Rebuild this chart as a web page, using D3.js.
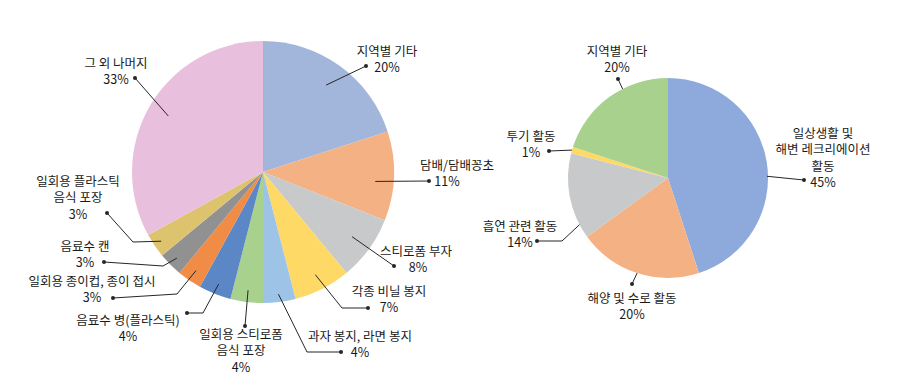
<!DOCTYPE html>
<html>
<head>
	<meta charset="utf-8">
	<style>
		body { margin: 0; background: #fff; }
		text {
			font-family: "Noto Sans CJK KR", "Noto Sans", sans-serif;
			font-size: 12.5px;
			fill: #1a1a1a;
		}
		.leader { fill: none; stroke: #262626; stroke-width: 1; }
	</style>
</head>
<body>
	<script src="https://cdn.jsdelivr.net/npm/d3@7"></script>
	<script>
	// left pie: 쓰레기 종류별 비율
	var leftCats = ["지역별 기타", "담배/담배꽁초", "스티로폼 부자", "각종 비닐 봉지", "과자 봉지, 라면 봉지",
		"일회용 스티로폼\n음식 포장", "음료수 병(플라스틱)", "일회용 종이컵, 종이 접시", "음료수 캔",
		"일회용 플라스틱\n음식 포장", "그 외 나머지"];
	var leftVals = [20, 11, 8, 7, 4, 4, 4, 3, 3, 3, 33];
	var leftColors = ["#A2B6DC", "#F4B183", "#C8C9CB", "#FFD966", "#9DC3E6", "#A9D18E",
		"#5B87C7", "#F08C45", "#919191", "#DDC36E", "#E8C0DD"];

	// right pie: 활동별 비율
	var rightCats = ["일상생활 및\n해변 레크리에이션\n활동", "해양 및 수로 활동", "흡연 관련 활동", "투기 활동", "지역별 기타"];
	var rightVals = [45, 20, 14, 1, 20];
	var rightColors = ["#8EA9DB", "#F4B183", "#C8C9CB", "#FFD966", "#A9D18E"];

	// label layout (text centre, dot, optional elbow, leader start radius factor, angle offset)
	var leftLabels = [
		{x: 387, y: 50, dot: [366, 66], r: 0.82},
		{x: 457, y: 164, dot: [429, 181], r: 0.86, off: 3, px: 447},
		{x: 416, y: 250, dot: [394, 266], r: 0.84, px: 418},
		{x: 389, y: 290, dot: [368, 308], elbow: [342, 308], r: 0.88},
		{x: 360, y: 335, dot: [341, 352], elbow: [307, 352], r: 0.94},
		{x: 241, y: 333, dot: [245, 326], r: 0.91},
		{x: 128, y: 319, dot: [187, 313], elbow: [203, 313], r: 0.92},
		{x: 92, y: 280, dot: [113, 298], elbow: [177, 294], r: 0.91},
		{x: 85, y: 245, dot: [104, 262], elbow: [163, 266], r: 0.93},
		{x: 78, y: 180, dot: [107, 213], elbow: [133, 242], r: 0.94},
		{x: 116, y: 62, dot: [135, 78], r: 0.84}
	];
	var rightLabels = [
		{x: 823, y: 132, dot: [804, 180], r: 0.99, off: 8},
		{x: 632, y: 297, dot: [632, 284], r: 1.0},
		{x: 520, y: 225, dot: [537, 241], elbow: [562, 241], r: 1.0, off: -17},
		{x: 531, y: 135, dot: [549, 151], r: 1.0},
		{x: 617, y: 50, dot: [618, 79], r: 1.0, off: 9}
	];

	var svg = d3.select("body").append("svg")
		.attr("width", 900)
		.attr("height", 389);

	function drawPie(cats, vals, colors, labels, cx, cy, R) {
		var pie = d3.pie().sort(null)(vals);
		var arc = d3.arc().innerRadius(0).outerRadius(R);
		var g = svg.append("g").attr("transform", "translate(" + cx + "," + cy + ")");

		g.selectAll("path.slice").data(pie).enter()
			.append("path")
			.attr("class", "slice")
			.attr("d", arc)
			.attr("fill", function(d, i) { return colors[i]; });

		pie.forEach(function(d, i) {
			var L = labels[i];
			var a = (d.startAngle + d.endAngle) / 2 + (L.off || 0) * Math.PI / 180;
			var sx = cx + Math.sin(a) * R * L.r,
				sy = cy - Math.cos(a) * R * L.r;
			var pts = [[sx, sy]];
			if (L.elbow) pts.push(L.elbow);
			pts.push(L.dot);

			svg.append("path")
				.attr("class", "leader")
				.attr("d", d3.line()(pts));
			svg.append("circle")
				.attr("cx", L.dot[0]).attr("cy", L.dot[1])
				.attr("r", 2).attr("fill", "#262626");

			var lines = cats[i].split("\n").concat([vals[i] + "%"]);
			var t = svg.append("text")
				.attr("text-anchor", "middle");
			lines.forEach(function(s, j) {
				var last = j == lines.length - 1;
				t.append("tspan")
					.attr("x", last && L.px ? L.px : L.x)
					.attr("y", L.y + j * 16.5)
					.attr("dominant-baseline", "central")
					.text(s);
			});
		});
	}

	drawPie(leftCats, leftVals, leftColors, leftLabels, 263, 172, 131);
	drawPie(rightCats, rightVals, rightColors, rightLabels, 668, 178, 100);
	</script>
</body>
</html>
